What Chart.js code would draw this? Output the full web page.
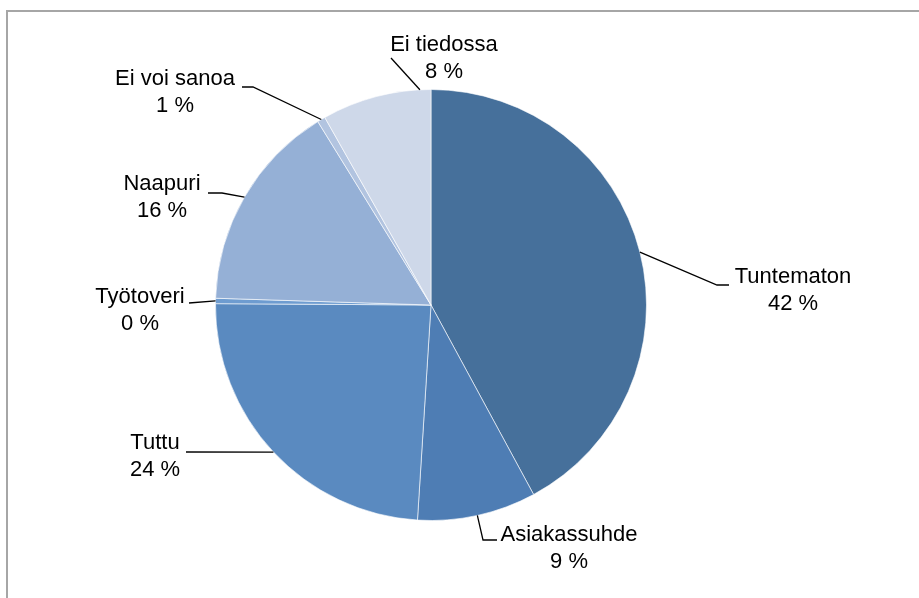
<!DOCTYPE html>
<html>
<head>
<meta charset="utf-8">
<script src="https://cdn.jsdelivr.net/npm/chart.js@4.4.1/dist/chart.umd.min.js"></script>
<style>
  html, body { margin: 0; padding: 0; background: #fff; }
  canvas { display: block; }
</style>
</head>
<body>
<canvas id="myChart" width="919" height="598"></canvas>
<script>
// Categories and shares (%)
const categories = ['Tuntematon', 'Asiakassuhde', 'Tuttu', 'Työtoveri', 'Naapuri', 'Ei voi sanoa', 'Ei tiedossa'];
const shares = [42.1, 8.9, 24.1, 0.4, 15.7, 0.6, 8.2];
const sliceColors = ['#46709B', '#4E7DB4', '#5A8AC0', '#6E9CD0', '#95B0D6', '#B2C4E0', '#CED8E9'];

// Label layout, relative to the pie centre
const labelCentre = [[362, -28], [138, 230], [-276, 138], [-291, -8], [-269, -121], [-256, -226], [13, -260]];
const leaderPoints = [
    [[286, -20], [298, -20]],
    [[52, 235], [66, 235]],
    [[-245, 147]],
    [[-242, -2]],
    [[-209, -112], [-223, -112]],
    [[-178, -218], [-189, -218]],
    [[-40, -247]]
];
// where along the slice the leader line touches (0 = start, 1 = end)
const leaderAnchor = [0.5, 0.5, 0.5, 0.5, 0.5, 0.5, 0.9];

const ctx = document.getElementById('myChart');

const frame = {
    id: 'frame',
    beforeDraw(chart) {
        const c = chart.ctx;
        c.save();
        c.strokeStyle = '#A6A6A6';
        c.lineWidth = 2;
        c.beginPath();
        c.moveTo(7, chart.height);
        c.lineTo(7, 11);
        c.lineTo(chart.width, 11);
        c.stroke();
        c.restore();
    }
};

const pieLabels = {
    id: 'pieLabels',
    afterDatasetsDraw(chart) {
        const c = chart.ctx;
        const arcs = chart.getDatasetMeta(0).data;
        const total = shares.reduce((a, b) => a + b, 0);
        c.save();
        c.strokeStyle = '#000';
        c.lineWidth = 1.3;
        c.fillStyle = '#000';
        c.font = '22px "Liberation Sans", Arial, sans-serif';
        c.textAlign = 'center';
        c.textBaseline = 'middle';
        arcs.forEach((arc, i) => {
            const cx = arc.x, cy = arc.y;
            const a = arc.startAngle + leaderAnchor[i] * (arc.endAngle - arc.startAngle);
            c.beginPath();
            c.moveTo(cx + Math.cos(a) * arc.outerRadius, cy + Math.sin(a) * arc.outerRadius);
            leaderPoints[i].forEach(p => c.lineTo(cx + p[0], cy + p[1]));
            c.stroke();

            const tx = cx + labelCentre[i][0], ty = cy + labelCentre[i][1];
            c.fillText(categories[i], tx, ty);
            c.fillText(Math.round(shares[i] / total * 100) + ' %', tx, ty + 27);
        });
        c.restore();
    }
};

new Chart(ctx, {
    type: 'pie',
    data: {
        labels: categories,
        datasets: [{
            data: shares,
            backgroundColor: sliceColors,
            borderColor: 'rgba(255,255,255,0.6)',
            borderWidth: 1
        }]
    },
    options: {
        responsive: false,
        animation: false,
        layout: { padding: { left: 215, right: 272, top: 89, bottom: 77 } },
        plugins: {
            legend: { display: false },
            tooltip: { enabled: false }
        }
    },
    plugins: [frame, pieLabels]
});
</script>
</body>
</html>
